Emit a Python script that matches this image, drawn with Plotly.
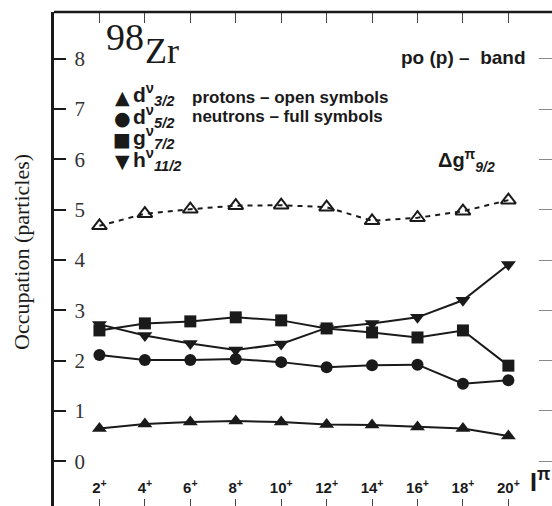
import plotly.graph_objects as go

# Yrast states of the positive-parity band
spins = [2, 4, 6, 8, 10, 12, 14, 16, 18, 20]
spin_labels = [f"{s}<sup>+</sup>" for s in spins]

# Orbital occupations (particles)
d32_nu = [0.65, 0.74, 0.78, 0.80, 0.78, 0.73, 0.72, 0.68, 0.65, 0.50]
d52_nu = [2.11, 2.01, 2.01, 2.03, 1.97, 1.87, 1.91, 1.92, 1.54, 1.61]
g72_nu = [2.60, 2.74, 2.78, 2.86, 2.80, 2.64, 2.56, 2.46, 2.60, 1.90]
h112_nu = [2.72, 2.50, 2.34, 2.21, 2.33, 2.65, 2.74, 2.86, 3.20, 3.91]
g92_pi = [4.68, 4.92, 5.01, 5.08, 5.09, 5.05, 4.78, 4.84, 4.97, 5.19]

y_ticks = list(range(0, 9))

W, H = 552, 506
ML, MT = 54, 12
PW, PH = W - ML, H - MT


def fx(px):
    return (px - ML) / PW


def fy(py):
    return (H - py) / PH


INK = "#1a1a1a"
SERIF = "Liberation Serif, Times New Roman, serif"
SANS = "Liberation Sans, Arial, sans-serif"

fig = go.Figure()

line = dict(color=INK, width=2)
series = [
    (d32_nu, "triangle-up", 13),
    (d52_nu, "circle", 12),
    (g72_nu, "square", 12),
    (h112_nu, "triangle-down", 13),
]
for vals, sym, size in series:
    fig.add_trace(go.Scatter(
        x=spins, y=vals, mode="lines+markers",
        line=line,
        marker=dict(symbol=sym, size=size, color=INK),
        showlegend=False,
    ))

fig.add_trace(go.Scatter(
    x=spins, y=g92_pi, mode="lines+markers",
    line=dict(color=INK, width=2, dash="5px,5px"),
    marker=dict(symbol="triangle-up-open", size=13, color=INK,
                line=dict(color=INK, width=2)),
    showlegend=False,
))

# mirror axes carrying the top and right tick marks
fig.add_trace(go.Scatter(x=[None], y=[None], xaxis="x2", yaxis="y2",
                         showlegend=False, hoverinfo="skip"))

xr = [0.0, 21.92]
yr = [-0.89, 8.93]

fig.update_layout(
    width=W, height=H,
    margin=dict(l=ML, r=0, t=MT, b=0),
    paper_bgcolor="white", plot_bgcolor="white",
    showlegend=False,
    xaxis=dict(
        range=xr, tickvals=spins, ticktext=spin_labels,
        ticks="inside", ticklen=7, tickwidth=1, tickcolor="#444",
        ticklabelposition="inside", ticklabelstandoff=3,
        tickfont=dict(family=SANS, size=15, color=INK, weight="bold"),
        showgrid=False, zeroline=False, showline=False,
    ),
    xaxis2=dict(
        range=xr, overlaying="x", side="top", tickvals=spins,
        ticks="inside", ticklen=11, tickwidth=1, tickcolor="#444",
        showticklabels=False, showgrid=False, zeroline=False,
        showline=False,
    ),
    yaxis=dict(
        range=yr, tickvals=y_ticks,
        ticks="inside", ticklen=12, tickwidth=1.5, tickcolor=INK,
        ticklabelposition="inside", ticklabelstandoff=10,
        tickfont=dict(family=SERIF, size=21, color="#333"),
        showgrid=False, zeroline=False,
        showline=True, linewidth=2.5, linecolor=INK,
    ),
    yaxis2=dict(
        range=yr, overlaying="y", side="right", tickvals=y_ticks,
        ticks="inside", ticklen=13, tickwidth=1, tickcolor="#888",
        showticklabels=False, showgrid=False, zeroline=False, showline=False,
    ),
    # upper frame edge
    shapes=[dict(type="line", xref="paper", yref="paper", x0=0, x1=1,
                 y0=1, y1=1, layer="above",
                 line=dict(color=INK, width=2.5))],
)

ann = []
# nucleus label: mass number raised before the element symbol
ann.append(dict(x=fx(104), y=fy(37), text="98", showarrow=False,
                xanchor="left", yanchor="middle",
                font=dict(family=SERIF, size=38, color=INK)))
ann.append(dict(x=fx(143), y=fy(51), text="Zr", showarrow=False,
                xanchor="left", yanchor="middle",
                font=dict(family=SERIF, size=36, color=INK)))
# band label
ann.append(dict(x=fx(528), y=fy(57), text="po (p) –  band", showarrow=False,
                xanchor="right", yanchor="middle",
                font=dict(family=SANS, size=19, color=INK, weight="bold")))
# key: symbols and orbitals
key_rows = [
    (97, "▲", "d<sup>ν</sup><sub><b><i>3/2</i></b></sub>"),
    (118, "●", "d<sup>ν</sup><sub><b><i>5/2</i></b></sub>"),
    (139, "■", "g<sup>ν</sup><sub><b><i>7/2</i></b></sub>"),
    (161, "▼", "h<sup>ν</sup><sub><b><i>11/2</i></b></sub>"),
]
for ypx, sym, lab in key_rows:
    ann.append(dict(x=fx(122), y=fy(ypx), text=sym, showarrow=False,
                    xanchor="center", yanchor="middle",
                    font=dict(family="DejaVu Sans", size=19, color=INK)))
    ann.append(dict(x=fx(131), y=fy(ypx - 2), text=lab, showarrow=False,
                    xanchor="left", yanchor="middle",
                    font=dict(family=SANS, size=21, color=INK, weight="bold")))
ann.append(dict(x=fx(190), y=fy(97), text="protons – open symbols", showarrow=False,
                xanchor="left", yanchor="middle",
                font=dict(family=SANS, size=17, color=INK, weight="bold")))
ann.append(dict(x=fx(190), y=fy(116), text="neutrons – full symbols", showarrow=False,
                xanchor="left", yanchor="middle",
                font=dict(family=SANS, size=17, color=INK, weight="bold")))
ann.append(dict(x=fx(436), y=fy(160), text="Δg<sup>π</sup><sub><b><i>9/2</i></b></sub>",
                showarrow=False, xanchor="left", yanchor="middle",
                font=dict(family=SANS, size=20, color=INK, weight="bold")))
# spin axis symbol
ann.append(dict(x=fx(528), y=fy(480), text="I<sup>π</sup>", showarrow=False,
                xanchor="left", yanchor="middle",
                font=dict(family=SANS, size=25, color=INK, weight="bold")))
# vertical axis title
ann.append(dict(x=fx(21), y=fy(252), text="Occupation (particles)", showarrow=False,
                textangle=-90, xanchor="center", yanchor="middle",
                font=dict(family=SERIF, size=22, color=INK)))
fig.update_layout(annotations=[dict(a, xref="paper", yref="paper") for a in ann])

fig.write_html("out.html")
